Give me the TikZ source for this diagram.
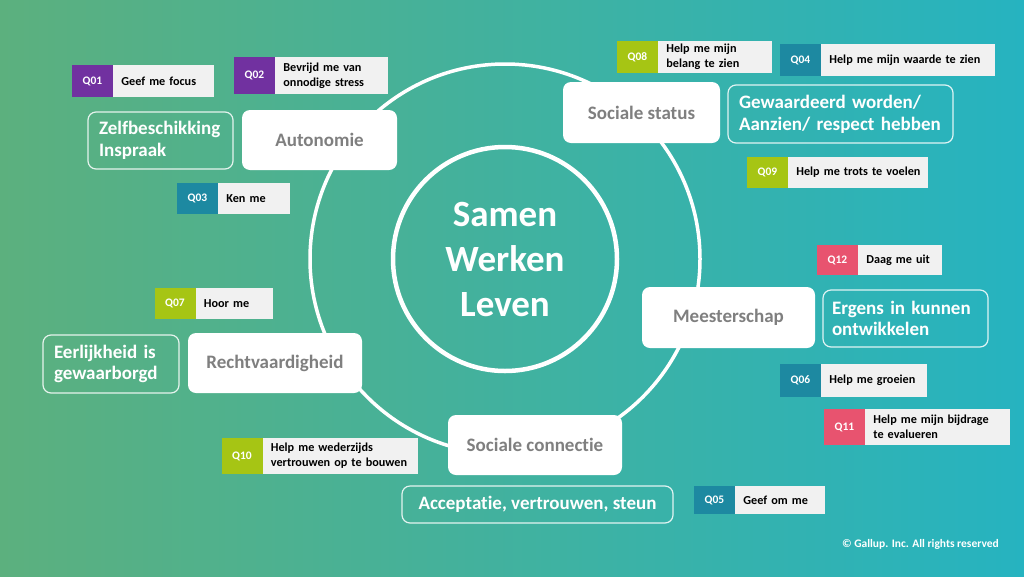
\documentclass[tikz,border=0pt]{standalone}
\usepackage{fontspec}
\setmainfont{Carlito}[Ligatures=NoCommon]
\usetikzlibrary{positioning}
\definecolor{bgleft}{HTML}{5CB07E}
\definecolor{bgright}{HTML}{26B3C0}
\definecolor{qpurple}{HTML}{7131A0}
\definecolor{qteal}{HTML}{1D89A1}
\definecolor{qlime}{HTML}{A6C514}
\definecolor{qpink}{HTML}{E8536F}
\definecolor{qgray}{HTML}{F1F1F1}
\definecolor{labelgray}{HTML}{7F7F7F}
% ragged lines that may run a little past the text width instead of breaking
\newcommand\looseleft{\raggedright\rightskip=0pt plus 1fil minus 40pt\relax\hyphenpenalty=10000\relax}
\tikzset{
  need/.style={fill=white, rounded corners=8pt, text=labelgray,
    font=\bfseries\fontsize{19}{22}\selectfont, inner sep=0pt},
  value/.style={draw=white, draw opacity=0.85, line width=1.2pt, rounded corners=8pt,
    text=white, font=\bfseries\fontsize{19}{21.7}\selectfont, inner xsep=11pt, inner ysep=0pt},
  valuetext/.style={value, text width=#1, execute at begin node=\looseleft},
  qtag/.style={fill=#1, text=white, font=\bfseries\fontsize{11.5}{13}\selectfont,
    minimum width=41pt, inner sep=0pt},
  qtext/.style={fill=qgray, text=black, font=\bfseries\fontsize{12.2}{15}\selectfont,
    text width=#1, execute at begin node=\looseleft, inner xsep=8pt, inner ysep=0pt}
}
\begin{document}
\begin{tikzpicture}[x=1pt, y=-1pt]
    % Background
    \useasboundingbox (0,0) rectangle (1024,576);
    \shade [left color=bgleft, right color=bgright] (0,0) rectangle (1024,576);

    % Circles
    \node [circle, draw=white, line width=4.5pt, minimum size=224pt, text=white, align=center,
           font=\bfseries\fontsize{37}{45}\selectfont] (core) at (505,259) {Samen\\Werken\\Leven};
    \draw [white, line width=3.5pt] (core.center) circle (195pt);

    % Needs
    \node [need, minimum width=155pt, minimum height=60pt] (auto) at (319.5,140) {Autonomie};
    \node [need, minimum width=157pt, minimum height=61pt] (status) at (641.5,112.5) {Sociale status};
    \node [need, minimum width=173pt, minimum height=61pt] (meester) at (728.5,317.5) {Meesterschap};
    \node [need, minimum width=174pt, minimum height=60pt] (recht) at (275,363) {Rechtvaardigheid};
    \node [need, minimum width=174pt, minimum height=60pt] (connect) at (535,445) {Sociale connectie};

    % Values
    \node [valuetext=123pt, minimum height=57pt] (vauto) at (160.5,140.5) {Zelfbeschikking\\Inspraak};
    \node [valuetext=203pt, minimum height=58pt] (vstatus) at (840.5,114) {Gewaardeerd worden/\\Aanzien/ respect hebben};
    \node [valuetext=147pt, minimum height=57pt, inner xsep=9pt] (vmeester) at (905.5,318.5) {Ergens in kunnen\\ontwikkelen};
    \node [valuetext=114pt, minimum height=58pt] (vrecht) at (111,364) {Eerlijkheid is\\gewaarborgd};
    \node [value, minimum width=271pt, minimum height=37pt] (vconnect) at (537.5,504.5) {Acceptatie, vertrouwen, steun};

    % Questions
    \node [qtag=qpurple, minimum height=32pt] (q01) at (92.5,81) {Q01};
    \node [qtext=85pt, minimum height=32pt, right=0pt of q01] (q01t) {Geef me focus};
    \node [qtag=qpurple, minimum height=37pt] (q02) at (254.5,75.5) {Q02};
    \node [qtext=97pt, minimum height=37pt, right=0pt of q02] (q02t) {Bevrijd me van\\onnodige stress};
    \node [qtag=qteal, minimum height=31pt] (q03) at (197.5,198.5) {Q03};
    \node [qtext=56pt, minimum height=31pt, right=0pt of q03] (q03t) {Ken me};
    \node [qtag=qteal, minimum height=32pt] (q04) at (800.5,60) {Q04};
    \node [qtext=158pt, minimum height=32pt, right=0pt of q04] (q04t) {Help me mijn waarde te zien};
    \node [qtag=qteal, minimum height=28pt] (q05) at (714.5,500) {Q05};
    \node [qtext=74pt, minimum height=28pt, right=0pt of q05] (q05t) {Geef om me};
    \node [qtag=qteal, minimum height=33pt] (q06) at (800.5,380.5) {Q06};
    \node [qtext=90pt, minimum height=33pt, right=0pt of q06] (q06t) {Help me groeien};
    \node [qtag=qlime, minimum height=31pt] (q07) at (175,303.5) {Q07};
    \node [qtext=61pt, minimum height=31pt, right=0pt of q07] (q07t) {Hoor me};
    \node [qtag=qlime, minimum height=32pt] (q08) at (637.5,57) {Q08};
    \node [qtext=98pt, minimum height=32pt, right=0pt of q08] (q08t) {Help me mijn\\belang te zien};
    \node [qtag=qlime, minimum height=31pt] (q09) at (767.5,172.5) {Q09};
    \node [qtext=124pt, minimum height=31pt, right=0pt of q09] (q09t) {Help me trots te voelen};
    \node [qtag=qlime, minimum height=36pt] (q10) at (242,456) {Q10};
    \node [qtext=139pt, minimum height=36pt, right=0pt of q10] (q10t) {Help me wederzijds\\vertrouwen op te bouwen};
    \node [qtag=qpink, minimum height=36pt] (q11) at (844.5,427) {Q11};
    \node [qtext=129pt, minimum height=36pt, right=0pt of q11] (q11t) {Help me mijn bijdrage\\te evalueren};
    \node [qtag=qpink, minimum height=30pt] (q12) at (837.5,260) {Q12};
    \node [qtext=68pt, minimum height=30pt, right=0pt of q12] (q12t) {Daag me uit};

    % Footer
    \node [anchor=east, text=white, inner sep=0pt, font=\bfseries\fontsize{11.5}{13}\selectfont] (copy) at (999,544) {© Gallup. Inc. All rights reserved};
\end{tikzpicture}
\end{document}
